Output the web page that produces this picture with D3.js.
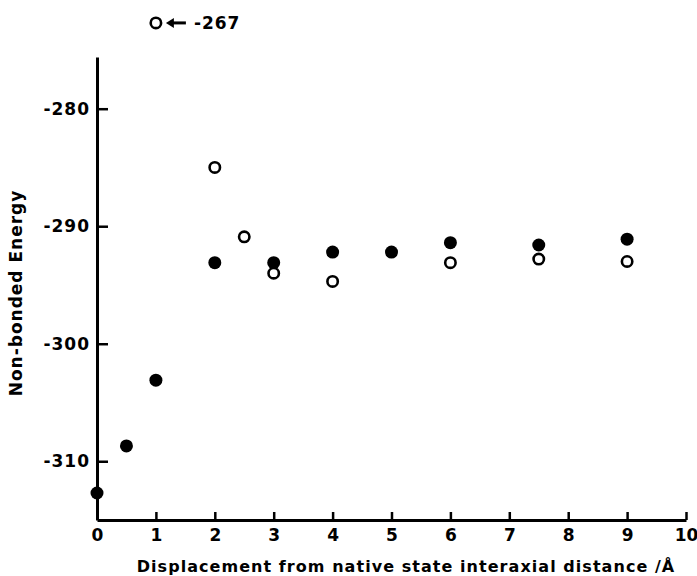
<!DOCTYPE html>
<html>
<head>
<meta charset="utf-8">
<script src="https://cdn.jsdelivr.net/npm/d3@7/dist/d3.min.js"></script>
<style>
  html, body { margin: 0; padding: 0; background: #fff; }
  svg { display: block; }
  text { font-family: "DejaVu Sans", "Liberation Sans", sans-serif; font-weight: bold; fill: #000; }
</style>
</head>
<body>
<svg id="chart" width="697" height="576"></svg>
<script>
// Filled circles series
const filledX = [0, 0.5, 1, 2, 3, 4, 5, 6, 7.5, 9];
const filledY = [-312.7, -308.7, -303.1, -293.1, -293.1, -292.2, -292.2, -291.4, -291.6, -291.1];
// Open circles series (first value is off-scale, shown with an arrow label)
const openX = [1, 2, 2.5, 3, 4, 6, 7.5, 9];
const openY = [-267, -285.0, -290.9, -294.0, -294.7, -293.1, -292.8, -293.0];
// Ticks
const xTicks = [0, 1, 2, 3, 4, 5, 6, 7, 8, 9, 10];
const yTicks = [-280, -290, -300, -310];
const offScaleLabel = "-267";
const offScaleShown = -272.7; // where the off-scale point is drawn on the axis

const svg = d3.select("#chart");
const x = d3.scaleLinear().domain([0, 10]).range([97, 686]);
const y = d3.scaleLinear().domain([-315, -275.6]).range([520, 57]);

// X axis
const gx = svg.append("g").attr("transform", `translate(0,${y(-315)})`)
  .call(d3.axisBottom(x).tickValues(xTicks).tickFormat(d3.format("d"))
    .tickSizeInner(-8).tickSizeOuter(0).tickPadding(9));
gx.select(".domain").attr("stroke", "#000").attr("stroke-width", 3);
gx.selectAll(".tick line").attr("stroke", "#000").attr("stroke-width", 2.5);
gx.selectAll(".tick text").style("font-size", "17px").style("font-family", "DejaVu Sans").style("font-weight", "bold");

// Y axis
const gy = svg.append("g").attr("transform", `translate(${x(0)},0)`)
  .call(d3.axisLeft(y).tickValues(yTicks).tickFormat(d => d3.format("d")(d).replace("\u2212", "-"))
    .tickSizeInner(-11).tickSizeOuter(0).tickPadding(7));
gy.select(".domain").attr("stroke", "#000").attr("stroke-width", 3);
gy.selectAll(".tick line").attr("stroke", "#000").attr("stroke-width", 2.5);
gy.selectAll(".tick text").style("font-size", "17px").style("font-family", "DejaVu Sans").style("font-weight", "bold")
  .attr("letter-spacing", "1");

// Filled points
svg.append("g").selectAll("circle").data(filledX.map((d, i) => [d, filledY[i]]))
  .join("circle")
  .attr("cx", d => x(d[0])).attr("cy", d => y(d[1])).attr("r", 6.5).attr("fill", "#000");

// Open points
const openData = openX.map((d, i) => [d, openY[i]]);
svg.append("g").selectAll("circle").data(openData)
  .join("circle")
  .attr("cx", d => x(d[0]))
  .attr("cy", d => y(d[1] > y.domain()[1] ? offScaleShown : d[1]))
  .attr("r", 5.2).attr("fill", "#fff").attr("stroke", "#000").attr("stroke-width", 2.6);

// Off-scale annotation: arrow + label
const off = openData.find(d => d[1] > y.domain()[1]);
const ax = x(off[0]), ay = y(offScaleShown);
svg.append("line")
  .attr("x1", ax + 14).attr("x2", ax + 30).attr("y1", ay).attr("y2", ay)
  .attr("stroke", "#000").attr("stroke-width", 3);
svg.append("path")
  .attr("d", `M${ax + 10},${ay} L${ax + 18},${ay - 5} L${ax + 18},${ay + 5} Z`)
  .attr("fill", "#000");
svg.append("text")
  .attr("x", ax + 38).attr("y", ay + 6)
  .style("font-size", "17px").attr("letter-spacing", "1")
  .text(offScaleLabel);

// Axis titles
svg.append("text")
  .attr("x", 406).attr("y", 572).attr("text-anchor", "middle")
  .style("font-size", "16px").attr("letter-spacing", "1.05")
  .text("Displacement from native state interaxial distance /\u00C5");

svg.append("text")
  .attr("transform", "translate(22,293) rotate(-90)").attr("text-anchor", "middle")
  .style("font-size", "17px").attr("letter-spacing", "1")
  .text("Non-bonded Energy");
</script>
</body>
</html>
